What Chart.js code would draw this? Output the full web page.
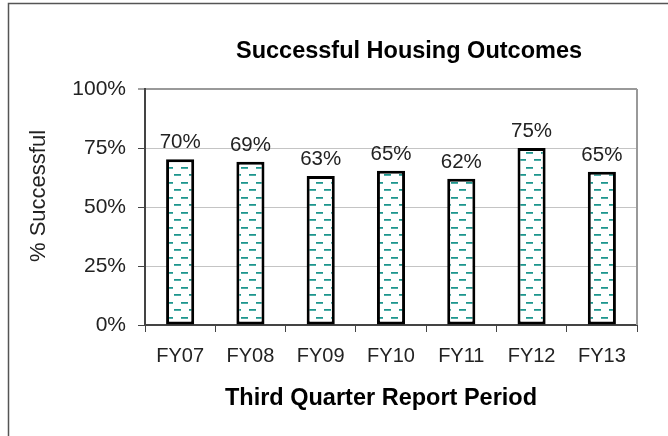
<!DOCTYPE html>
<html><head><meta charset="utf-8">
<script src="https://cdn.jsdelivr.net/npm/chart.js@4/dist/chart.umd.min.js"></script>
<style>html,body{margin:0;padding:0;background:#fff}#wrap{width:668px;height:436px}</style>
</head><body><div id="wrap"><canvas id="c" width="668" height="436"></canvas></div>
<script>
const categories = ['FY07','FY08','FY09','FY10','FY11','FY12','FY13'];
const successPct = [70.2, 69.2, 63.1, 65.4, 62.0, 75.0, 64.9];
const yTicks = [0, 25, 50, 75, 100];
const chartTitle = 'Successful Housing Outcomes';
const xTitle = 'Third Quarter Report Period';
const yTitle = '% Successful';

const FONT = '"Liberation Sans", Arial, Helvetica, sans-serif';

function makePattern(){
  const t = document.createElement('canvas');
  t.width = 15; t.height = 15;
  const g = t.getContext('2d');
  g.fillStyle = '#ffffff'; g.fillRect(0,0,15,15);
  g.fillStyle = '#1e958d'; g.fillRect(1,2,7,1); g.fillRect(9,9,6,1); g.fillRect(0,9,1,1);
  g.fillStyle = '#4cada6'; g.fillRect(1,3,7,1); g.fillRect(9,10,6,1); g.fillRect(0,10,1,1);
  return document.getElementById('c').getContext('2d').createPattern(t,'repeat');
}

const decor = {
  id:'decor',
  beforeDraw(chart){
    const ctx = chart.ctx;
    ctx.save();
    ctx.fillStyle='#fff'; ctx.fillRect(0,0,chart.width,chart.height);
    ctx.strokeStyle='#555'; ctx.lineWidth=1.5;
    ctx.beginPath(); ctx.moveTo(668,3.5); ctx.lineTo(8.5,3.5); ctx.lineTo(8.5,436); ctx.stroke();
    ctx.restore();
  },
  afterDatasetsDraw(chart){
    const ctx = chart.ctx, a = chart.chartArea;
    ctx.save();
    ctx.strokeStyle='#999'; ctx.lineWidth=2;
    ctx.beginPath(); ctx.moveTo(a.right, a.top); ctx.lineTo(a.right, a.bottom); ctx.stroke();
    // data labels
    ctx.fillStyle='#222'; ctx.font='20.5px '+FONT; ctx.textAlign='center'; ctx.textBaseline='alphabetic';
    const meta = chart.getDatasetMeta(0);
    meta.data.forEach((b,i)=>{
      ctx.fillText(Math.round(successPct[i])+'%', b.x, b.y-11);
    });
    // titles
    const cx = (a.left+a.right)/2;
    ctx.fillStyle='#000';
    ctx.font='bold 23.5px '+FONT;
    ctx.fillText(chartTitle, cx+18, 58);
    ctx.fillText(xTitle, cx-10, 405);
    ctx.save();
    ctx.translate(45, (a.top+a.bottom)/2-11);
    ctx.rotate(-Math.PI/2);
    ctx.font='22px '+FONT; ctx.fillStyle='#222';
    ctx.fillText(yTitle, 0, 0);
    ctx.restore();
    ctx.restore();
  }
};

new Chart(document.getElementById('c'), {
  type:'bar',
  data:{ labels: categories, datasets:[{
    data: successPct,
    backgroundColor: makePattern(),
    borderColor:'#000', borderWidth:3, borderSkipped:false,
    categoryPercentage:1.0, barPercentage:0.4
  }]},
  options:{
    responsive:false, animation:false,
    layout:{padding:{top:89, right:31, left:0, bottom:0}},
    plugins:{legend:{display:false}, title:{display:false}, tooltip:{enabled:false}},
    scales:{
      y:{ min:0, max:100,
        afterFit(s){ s.width = 145; },
        afterBuildTicks(s){ s.ticks = yTicks.map(v=>({value:v})); },
        ticks:{ callback:v=>v+'%', color:'#222', font:{family:FONT, size:21}, padding:12 },
        grid:{ color:ctx=> ctx.tick && ctx.tick.value===100 ? '#999' : '#c4c4c4', lineWidth:ctx=> ctx.tick && ctx.tick.value===100 ? 2 : 1, tickLength:7, tickColor:'#444', tickWidth:1 },
        border:{ color:'#444', width:2 }
      },
      x:{
        afterFit(s){ s.height = 111; },
        ticks:{ color:'#222', font:{family:FONT, size:20}, padding:12 },
        grid:{ drawOnChartArea:false, offset:true, tickLength:7, tickColor:'#444', tickWidth:1 },
        border:{ color:'#444', width:2 }
      }
    }
  },
  plugins:[decor]
});
</script></body></html>
